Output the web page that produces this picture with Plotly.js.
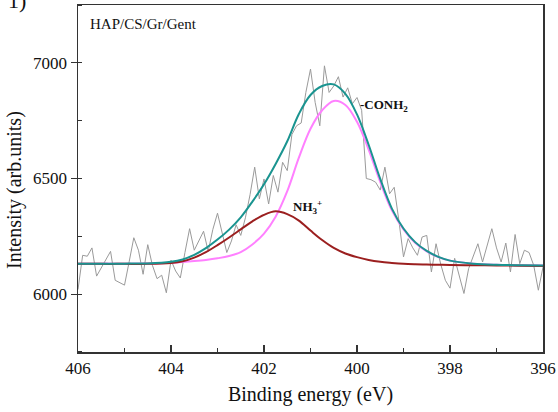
<!DOCTYPE html>
<html>
<head>
<meta charset="utf-8">
<script src="https://cdn.plot.ly/plotly-3.0.1.min.js"></script>
<style>html,body{margin:0;padding:0;background:#fff;}#chart{width:558px;height:412px;}</style>
</head>
<body>
<div id="chart"></div>
<script>
// Raw spectrum (binding energy, eV) and intensity
const rawEnergy = [406.0,405.9,405.8,405.7,405.6,405.5,405.4,405.3,405.2,405.1,405.0,404.9,404.8,404.7,404.6,404.5,404.4,404.3,404.2,404.1,404.0,403.9,403.8,403.7,403.6,403.5,403.4,403.3,403.2,403.1,403.0,402.9,402.8,402.7,402.6,402.5,402.4,402.3,402.2,402.1,402.0,401.9,401.8,401.7,401.6,401.5,401.4,401.3,401.2,401.1,401.0,400.9,400.8,400.7,400.6,400.5,400.4,400.3,400.2,400.1,400.0,399.9,399.8,399.7,399.6,399.5,399.4,399.3,399.2,399.1,399.0,398.9,398.8,398.7,398.6,398.5,398.4,398.3,398.2,398.1,398.0,397.9,397.8,397.7,397.6,397.5,397.4,397.3,397.2,397.1,397.0,396.9,396.8,396.7,396.6,396.5,396.4,396.3,396.2,396.1,396.0];
const rawIntensity = [6020,6168,6164,6200,6078,6115,6147,6185,6060,6050,6039,6140,6244,6190,6086,6214,6125,6067,6082,6006,6147,6100,6070,6180,6283,6190,6230,6272,6185,6280,6350,6270,6180,6230,6300,6254,6330,6430,6549,6412,6498,6390,6513,6441,6570,6534,6690,6728,6740,6872,6973,6829,6728,6987,6872,6900,6940,6852,6892,6823,6850,6795,6500,6495,6484,6450,6549,6434,6462,6319,6161,6240,6200,6168,6247,6254,6096,6218,6130,6060,6026,6155,6080,6003,6110,6160,6218,6139,6210,6283,6200,6139,6221,6096,6258,6132,6190,6180,6125,6017,6117];

// Fitted components
const fitEnergy = [406,405.5,405,404.5,404,403.75,403.5,403.25,403,402.75,402.5,402.25,402,401.75,401.5,401.25,401,400.75,400.5,400.25,400,399.75,399.5,399.25,399,398.75,398.5,398.25,398,397.5,397,396.5,396];
const nh3Fit = [6132,6131,6131,6131,6135,6142,6158,6182,6212,6245,6280,6315,6343,6358,6346,6318,6275,6234,6200,6176,6160,6148,6140,6135,6131,6129,6128,6127,6126,6125,6124,6123,6122];
const conh2Fit = [6131,6132,6132,6133,6136,6139,6143,6148,6155,6165,6182,6215,6262,6335,6445,6590,6715,6795,6835,6818,6745,6625,6485,6362,6280,6222,6185,6160,6145,6132,6127,6125,6124];
const envelopeFit = [6132,6132,6132,6133,6140,6150,6170,6199,6236,6279,6332,6400,6475,6563,6661,6779,6861,6900,6907,6866,6777,6646,6498,6370,6284,6225,6187,6161,6145,6132,6127,6125,6124];

const xTicks = [406,404,402,400,398,396];
const yTicks = [6000,6500,7000];

const serif = 'Times New Roman, Liberation Serif, DejaVu Serif, serif';

const traces = [
  {x: rawEnergy, y: rawIntensity, type: 'scatter', mode: 'lines', line: {color: '#9a9a9a', width: 1}, hoverinfo: 'skip'},
  {x: fitEnergy, y: conh2Fit, type: 'scatter', mode: 'lines', line: {color: '#ff80ff', width: 2, shape: 'spline'}},
  {x: fitEnergy, y: nh3Fit, type: 'scatter', mode: 'lines', line: {color: '#9b1f1f', width: 2, shape: 'spline'}},
  {x: fitEnergy, y: envelopeFit, type: 'scatter', mode: 'lines', line: {color: '#1a9490', width: 2, shape: 'spline'}}
];

const layout = {
  width: 558, height: 412,
  margin: {l: 78, r: 15, t: 5, b: 60},
  paper_bgcolor: '#fff', plot_bgcolor: '#fff',
  showlegend: false,
  font: {family: serif, color: '#111', size: 16},
  xaxis: {
    range: [406, 396], tickvals: xTicks, ticktext: xTicks.map(String),
    ticks: 'inside', ticklen: 7, tickwidth: 1.3, tickcolor: '#333',
    minor: {dtick: 1, ticks: 'inside', ticklen: 4, tickwidth: 1.3, tickcolor: '#333', tick0: 0},
    showline: true, linecolor: '#333', linewidth: 1.5, mirror: true,
    showgrid: false, zeroline: false,
    tickfont: {family: serif, size: 17, color: '#111'},
    title: {text: 'Binding energy (eV)', font: {family: serif, size: 20, color: '#111'}, standoff: 10}
  },
  yaxis: {
    range: [5750, 7250], tickvals: yTicks, ticktext: yTicks.map(String),
    ticks: 'outside', ticklen: 6, tickwidth: 1.3, tickcolor: '#333',
    minor: {dtick: 250, ticks: 'inside', ticklen: 4, tickwidth: 1.3, tickcolor: '#333', tick0: 0},
    showline: true, linecolor: '#333', linewidth: 1.5, mirror: true,
    showgrid: false, zeroline: false,
    tickfont: {family: serif, size: 17, color: '#111'},
    title: {text: ''}
  },
  annotations: [
    {xref: 'paper', yref: 'paper', x: -0.1355, y: 0.467, xanchor: 'center', yanchor: 'middle', showarrow: false,
     textangle: -90, text: 'Intensity (arb.units)', font: {family: serif, size: 20, color: '#111'}},
    {xref: 'paper', yref: 'paper', x: 0.0215, y: 0.945, xanchor: 'left', yanchor: 'middle', showarrow: false,
     text: 'HAP/CS/Gr/Gent', font: {family: serif, size: 15, color: '#111'}},
    {xref: 'paper', yref: 'paper', x: -0.155, y: 1.014, xanchor: 'left', yanchor: 'middle', showarrow: false,
     text: '1)', font: {family: serif, size: 22, color: '#111'}},
    {xref: 'x', yref: 'y', x: 399.98, y: 6815, xanchor: 'left', yanchor: 'middle', showarrow: false,
     text: '<b>-CONH<sub>2</sub></b>', font: {family: serif, size: 13, color: '#111'}},
    {xref: 'x', yref: 'y', x: 401.43, y: 6375, xanchor: 'left', yanchor: 'middle', showarrow: false,
     text: '<b>NH<sub>3</sub><sup>+</sup></b>', font: {family: serif, size: 13, color: '#111'}}
  ]
};

Plotly.newPlot('chart', traces, layout, {staticPlot: true, displayModeBar: false});
</script>
</body>
</html>
